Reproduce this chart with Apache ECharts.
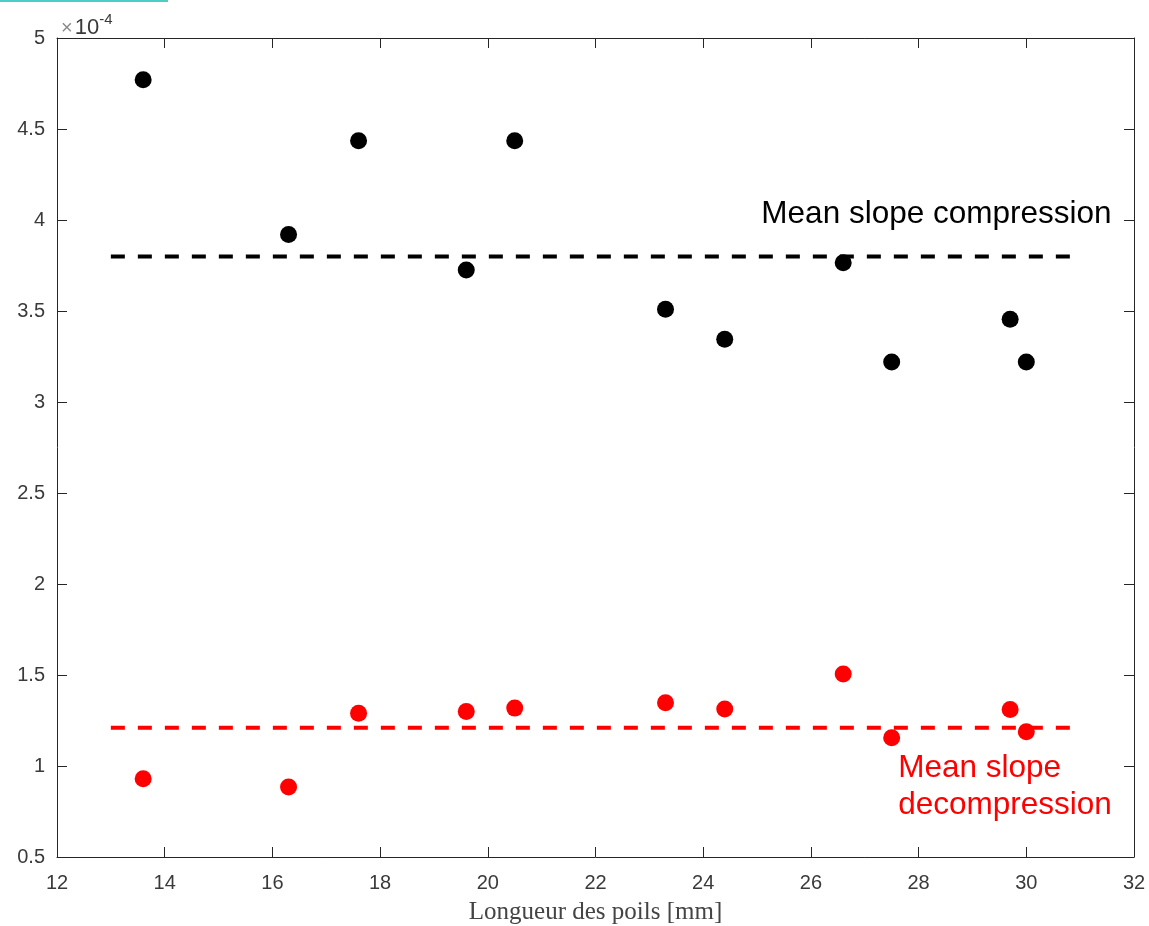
<!DOCTYPE html>
<html>
<head>
<meta charset="utf-8">
<script src="https://cdn.jsdelivr.net/npm/echarts@6/dist/echarts.min.js"></script>
<style>
  html, body { margin: 0; padding: 0; background: #fff; overflow: hidden; }
  #chart { width: 1149px; height: 926px; }
</style>
</head>
<body>
<div id="chart"></div>
<script>
// Hair length (mm) for each sample
const hairLength = [13.6, 16.3, 17.6, 19.6, 20.5, 23.3, 24.4, 26.6, 27.5, 29.7, 30.0];
// Slopes in units of 1e-4
const slopeCompression   = [4.77, 3.92, 4.435, 3.725, 4.435, 3.51, 3.345, 3.765, 3.22, 3.455, 3.22];
const slopeDecompression = [0.93, 0.885, 1.29, 1.30, 1.318, 1.348, 1.313, 1.505, 1.155, 1.31, 1.188];
// Mean slope reference lines
const meanSpan = [13, 31];
const meanCompression = 3.8;
const meanDecompression = 1.21;
// Axis ticks
const xTicks = [12, 14, 16, 18, 20, 22, 24, 26, 28, 30, 32];
const yTicks = [0.5, 1, 1.5, 2, 2.5, 3, 3.5, 4, 4.5, 5];

const axisColor = '#262626';
const labelColor = '#3a3a3a';
const sansFont = '"Liberation Sans", Arial, Helvetica, sans-serif';

const pairs = (xs, ys) => xs.map((x, i) => [x, ys[i]]);
const flat = (xs, v) => xs.map(x => [x, v]);

const chart = echarts.init(document.getElementById('chart'), null, { renderer: 'canvas' });

const baseX = {
  type: 'value',
  min: xTicks[0], max: xTicks[xTicks.length - 1], interval: xTicks[1] - xTicks[0],
  splitLine: { show: false },
  axisLine: { show: true, onZero: false, lineStyle: { color: axisColor, width: 1 } },
  axisTick: { show: true, inside: true, length: 10, lineStyle: { color: axisColor } }
};
const baseY = {
  type: 'value',
  min: yTicks[0], max: yTicks[yTicks.length - 1], interval: yTicks[1] - yTicks[0],
  splitLine: { show: false },
  axisLine: { show: true, onZero: false, lineStyle: { color: axisColor, width: 1 } },
  axisTick: { show: true, inside: true, length: 10, lineStyle: { color: axisColor } }
};

chart.setOption({
  animation: false,
  backgroundColor: '#ffffff',
  grid: { left: 57, right: 15, top: 38, bottom: 69, containLabel: false, outerBoundsMode: 'none' },
  title: {
    left: 56, top: 4,
    text: '{x|×}{t|10}{s|-4}',
    textStyle: {
      rich: {
        x: { fontFamily: sansFont, fontSize: 20, fontWeight: 'normal', color: '#8a8a8a', padding: [8, 2, 0, 0] },
        t: { fontFamily: sansFont, fontSize: 22, fontWeight: 'normal', color: labelColor, padding: [8, 0, 0, 0] },
        s: { fontFamily: sansFont, fontSize: 15, fontWeight: 'normal', color: labelColor, padding: [0, 0, 8, 0] }
      }
    }
  },
  xAxis: [
    Object.assign({}, baseX, {
      position: 'bottom',
      axisLabel: { show: true, margin: 16, fontFamily: sansFont, fontSize: 20, color: labelColor },
      name: 'Longueur des poils [mm]',
      nameLocation: 'middle',
      nameGap: 43,
      nameTextStyle: { fontFamily: '"Liberation Serif", "DejaVu Serif", serif', fontSize: 25, color: '#444444' }
    }),
    Object.assign({}, baseX, { position: 'top', axisLabel: { show: false } })
  ],
  yAxis: [
    Object.assign({}, baseY, {
      position: 'left',
      axisLabel: { show: true, margin: 12, fontFamily: sansFont, fontSize: 20, color: labelColor }
    }),
    Object.assign({}, baseY, { position: 'right', axisLabel: { show: false } })
  ],
  graphic: [
    { type: 'rect', left: 0, top: 0, shape: { width: 168, height: 2 }, style: { fill: '#4ecdc4' }, silent: true }
  ],
  series: [
    {
      name: 'Mean slope compression',
      type: 'line', xAxisIndex: 0, yAxisIndex: 0,
      data: flat(meanSpan, meanCompression),
      symbol: 'none', z: 2,
      lineStyle: { color: '#000000', width: 4, type: [14, 13], cap: 'butt', opacity: 1 }
    },
    {
      name: 'Mean slope decompression',
      type: 'line', xAxisIndex: 0, yAxisIndex: 0,
      data: flat(meanSpan, meanDecompression),
      symbol: 'none', z: 2,
      lineStyle: { color: '#ff0000', width: 4, type: [14, 13], cap: 'butt', opacity: 1 }
    },
    {
      name: 'Compression',
      type: 'scatter', xAxisIndex: 0, yAxisIndex: 0,
      data: pairs(hairLength, slopeCompression),
      symbol: 'circle', symbolSize: 17, z: 3,
      itemStyle: { color: '#000000', opacity: 1 }
    },
    {
      name: 'Decompression',
      type: 'scatter', xAxisIndex: 0, yAxisIndex: 0,
      data: pairs(hairLength, slopeDecompression),
      symbol: 'circle', symbolSize: 17, z: 3,
      itemStyle: { color: '#ff0000', opacity: 1 }
    },
    {
      // text annotations anchored in data coordinates
      name: 'annotations',
      type: 'scatter', xAxisIndex: 0, yAxisIndex: 0,
      symbolSize: 0, silent: true, z: 4,
      itemStyle: { opacity: 1 },
      data: [
        {
          value: [25.08, 4.03],
          label: {
            show: true, position: 'right', distance: 0,
            formatter: 'Mean slope compression',
            fontFamily: sansFont, fontSize: 31.5, color: '#000000'
          }
        },
        {
          value: [27.62, 0.885],
          label: {
            show: true, position: 'right', distance: 0,
            formatter: 'Mean slope\ndecompression',
            fontFamily: sansFont, fontSize: 31.5, lineHeight: 37, color: '#ff0000'
          }
        }
      ]
    }
  ]
});
</script>
</body>
</html>
